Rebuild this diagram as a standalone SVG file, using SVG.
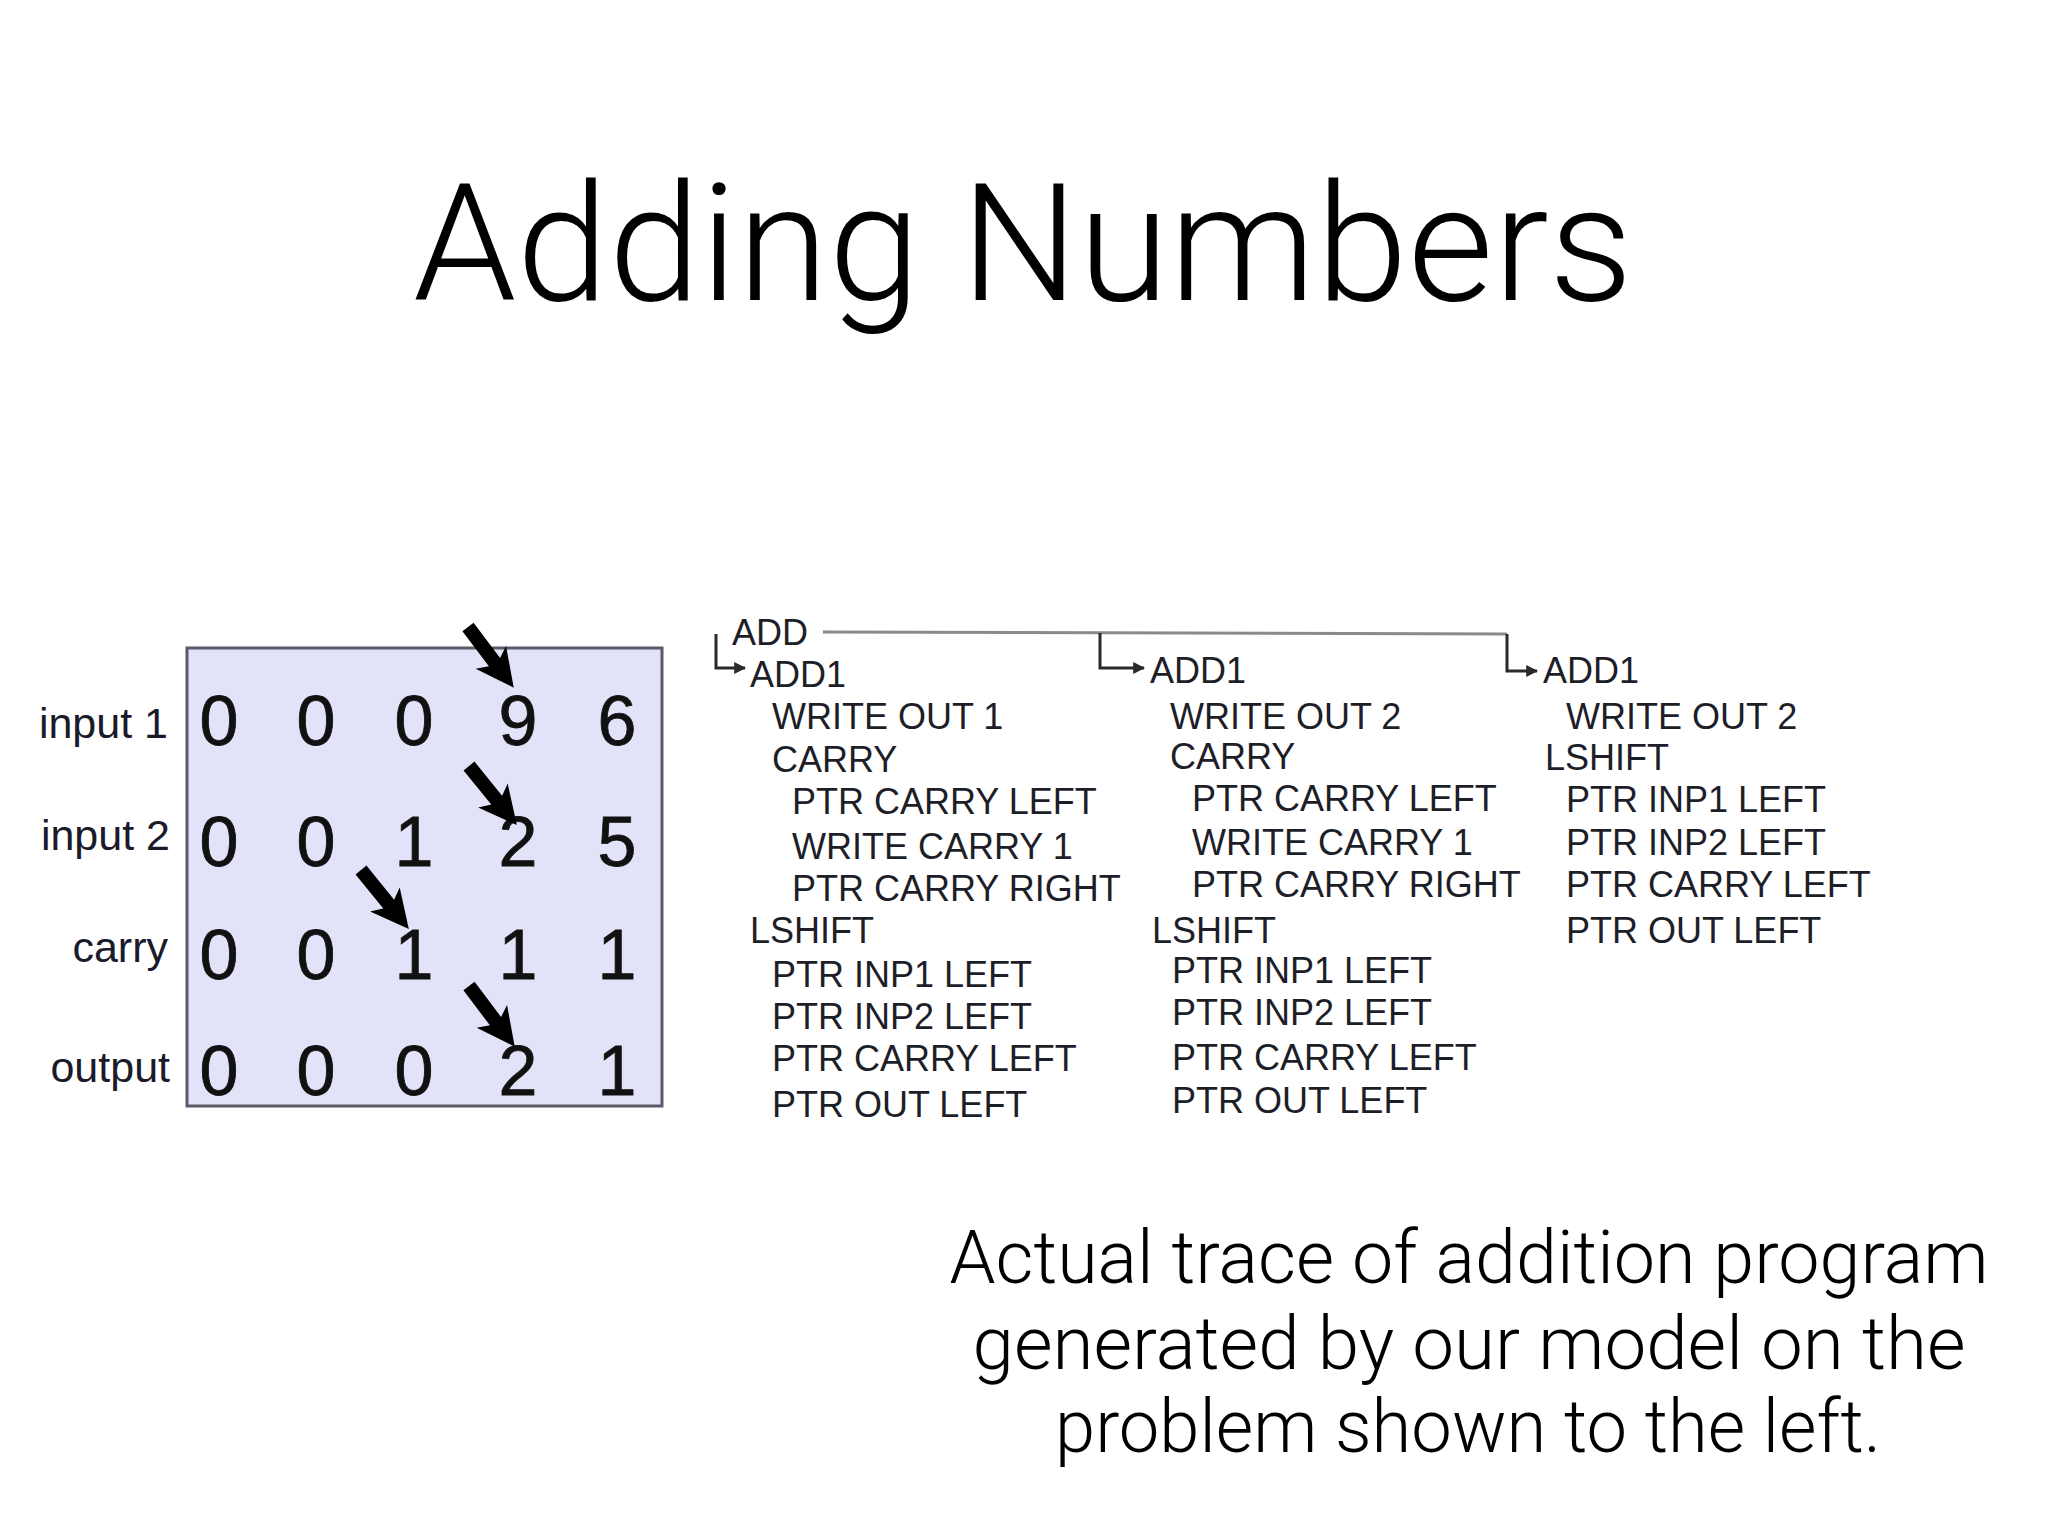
<svg xmlns="http://www.w3.org/2000/svg" width="2048" height="1536" viewBox="0 0 2048 1536">
<defs>
<style>
.title{font-family:"Roboto","Liberation Sans",sans-serif;font-weight:300;font-size:164px;fill:#000}
.cap{font-family:"Roboto","Liberation Sans",sans-serif;font-weight:300;font-size:74px;fill:#000}
.lbl{font-family:"Liberation Sans",Arial,sans-serif;font-size:43px;fill:#1a1a2a}
.dig{font-family:"Liberation Sans",Arial,sans-serif;font-size:70px;fill:#111;text-anchor:middle;stroke:#111;stroke-width:0.8}
.tr{font-family:"Liberation Sans",Arial,sans-serif;font-size:36px;fill:#1e1e28}
.con{fill:none;stroke:#2a2a2a;stroke-width:3}
.main{fill:none;stroke:#8a8a8a;stroke-width:3}
</style>
<marker id="ah" viewBox="0 0 10 10" refX="9" refY="5" markerWidth="4" markerHeight="4" orient="auto" markerUnits="strokeWidth">
<path d="M0,0 L10,5 L0,10 z" fill="#2a2a2a"/>
</marker>
<path id="bigArrow" d="M0,-7 L44,-7 L38,-19 L76,0 L38,19 L44,7 L0,7 z" fill="#000"/>
</defs>
<rect width="2048" height="1536" fill="#fff"/>
<text class="title" x="1023" y="300" text-anchor="middle" textLength="1220" lengthAdjust="spacingAndGlyphs">Adding Numbers</text>

<g id="grid">
<rect x="187" y="648" width="475" height="458" fill="#e2e2f8" stroke="#5a5a68" stroke-width="3"/>
<text class="lbl" x="168" y="738" text-anchor="end">input 1</text>
<text class="lbl" x="170" y="850" text-anchor="end">input 2</text>
<text class="lbl" x="168" y="962" text-anchor="end">carry</text>
<text class="lbl" x="170" y="1082" text-anchor="end">output</text>
<g>
<text class="dig" x="219" y="745">0</text><text class="dig" x="316" y="745">0</text><text class="dig" x="414" y="745">0</text><text class="dig" x="518" y="745">9</text><text class="dig" x="617" y="745">6</text>
<text class="dig" x="219" y="866">0</text><text class="dig" x="316" y="866">0</text><text class="dig" x="414" y="866">1</text><text class="dig" x="518" y="866">2</text><text class="dig" x="617" y="866">5</text>
<text class="dig" x="219" y="979">0</text><text class="dig" x="316" y="979">0</text><text class="dig" x="414" y="979">1</text><text class="dig" x="518" y="979">1</text><text class="dig" x="617" y="979">1</text>
<text class="dig" x="219" y="1095">0</text><text class="dig" x="316" y="1095">0</text><text class="dig" x="414" y="1095">0</text><text class="dig" x="518" y="1095">2</text><text class="dig" x="617" y="1095">1</text>
</g>
<use href="#bigArrow" transform="translate(468,627) rotate(53)"/>
<use href="#bigArrow" transform="translate(469,766) rotate(51)"/>
<use href="#bigArrow" transform="translate(361,870) rotate(51)"/>
<use href="#bigArrow" transform="translate(469,986) rotate(53)"/>
</g>

<g id="connectors">
<path class="main" d="M823,632 L1507,634"/>
<path class="con" d="M716,634 V668 H745" marker-end="url(#ah)"/>
<path class="con" d="M1100,633 V668 H1144" marker-end="url(#ah)"/>
<path class="con" d="M1507,634 V671 H1537" marker-end="url(#ah)"/>
</g>

<g id="trace1">
<text class="tr" x="732" y="645">ADD</text>
<text class="tr" x="750" y="687">ADD1</text>
<text class="tr" x="772" y="729">WRITE OUT 1</text>
<text class="tr" x="772" y="772">CARRY</text>
<text class="tr" x="792" y="814">PTR CARRY LEFT</text>
<text class="tr" x="792" y="859">WRITE CARRY 1</text>
<text class="tr" x="792" y="901">PTR CARRY RIGHT</text>
<text class="tr" x="750" y="943">LSHIFT</text>
<text class="tr" x="772" y="987">PTR INP1 LEFT</text>
<text class="tr" x="772" y="1029">PTR INP2 LEFT</text>
<text class="tr" x="772" y="1071">PTR CARRY LEFT</text>
<text class="tr" x="772" y="1117">PTR OUT LEFT</text>
</g>

<g id="trace2">
<text class="tr" x="1150" y="683">ADD1</text>
<text class="tr" x="1170" y="729">WRITE OUT 2</text>
<text class="tr" x="1170" y="769">CARRY</text>
<text class="tr" x="1192" y="811">PTR CARRY LEFT</text>
<text class="tr" x="1192" y="855">WRITE CARRY 1</text>
<text class="tr" x="1192" y="897">PTR CARRY RIGHT</text>
<text class="tr" x="1152" y="943">LSHIFT</text>
<text class="tr" x="1172" y="983">PTR INP1 LEFT</text>
<text class="tr" x="1172" y="1025">PTR INP2 LEFT</text>
<text class="tr" x="1172" y="1070">PTR CARRY LEFT</text>
<text class="tr" x="1172" y="1113">PTR OUT LEFT</text>
</g>

<g id="trace3">
<text class="tr" x="1543" y="683">ADD1</text>
<text class="tr" x="1566" y="729">WRITE OUT 2</text>
<text class="tr" x="1545" y="770">LSHIFT</text>
<text class="tr" x="1566" y="812">PTR INP1 LEFT</text>
<text class="tr" x="1566" y="855">PTR INP2 LEFT</text>
<text class="tr" x="1566" y="897">PTR CARRY LEFT</text>
<text class="tr" x="1566" y="943">PTR OUT LEFT</text>
</g>

<g id="caption">
<text class="cap" x="1469" y="1283" text-anchor="middle" textLength="1039" lengthAdjust="spacingAndGlyphs">Actual trace of addition program</text>
<text class="cap" x="1469" y="1369" text-anchor="middle" textLength="993" lengthAdjust="spacingAndGlyphs">generated by our model on the</text>
<text class="cap" x="1468" y="1452" text-anchor="middle" textLength="826" lengthAdjust="spacingAndGlyphs">problem shown to the left.</text>
</g>
</svg>
